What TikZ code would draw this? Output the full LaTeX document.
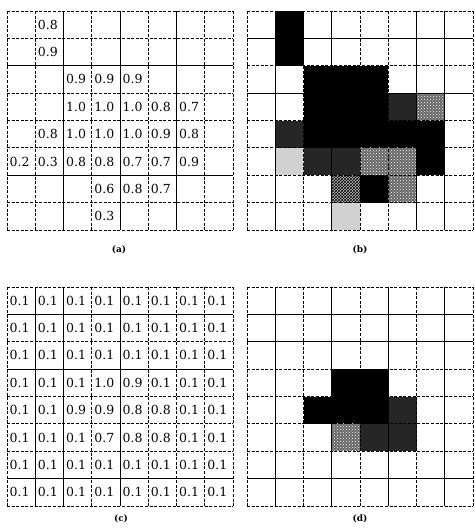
\documentclass[tikz,border=0pt]{standalone}
\usepackage{fontspec}
\setmainfont{DejaVu Serif}
\usetikzlibrary{patterns}
\tikzset{
  gridline/.style={line width=0.8pt, dash pattern=on 3pt off 1.6pt},
  solidline/.style={line width=0.8pt},
  val/.style={anchor=west, inner sep=0pt, font=\fontsize{12.5}{13}\selectfont},
  captext/.style={inner sep=0pt, font=\fontsize{9}{10}\selectfont\bfseries},
  blk/.style={fill=black},
  drk/.style={fill=black!85},
  med/.style={fill=black!60, postaction={pattern=crosshatch dots, pattern color=white}},
  lgt/.style={fill=black!18},
  hat/.style={fill=black!25, postaction={pattern=crosshatch, pattern color=black}},
}
\begin{document}
\begin{tikzpicture}[x=1pt,y=-1pt]
\useasboundingbox (0,0) rectangle (474,530);
\def\cw{28.25}\def\ch{27.375}
% ---- fills of (b)
\foreach \r/\c in {0/1,1/1,2/2,2/3,2/4,3/2,3/3,3/4,4/2,4/3,4/4,4/5,4/6,5/6,6/4}
  \fill[blk] (247+\c*\cw, 11+\r*\ch) rectangle ++(\cw,\ch);
\foreach \r/\c in {3/5,4/1,5/2,5/3}
  \fill[drk] (247+\c*\cw, 11+\r*\ch) rectangle ++(\cw,\ch);
\foreach \r/\c in {3/6,5/4,5/5,6/5}
  \path[med] (247+\c*\cw, 11+\r*\ch) rectangle ++(\cw,\ch);
\foreach \r/\c in {5/1,7/3}
  \fill[lgt] (247+\c*\cw, 11+\r*\ch) rectangle ++(\cw,\ch);
\foreach \r/\c in {6/3}
  \path[hat] (247+\c*\cw, 11+\r*\ch) rectangle ++(\cw,\ch);
% ---- fills of (d)
\foreach \r/\c in {3/3,3/4,4/2,4/3,4/4}
  \fill[blk] (247+\c*\cw, 287+\r*\ch) rectangle ++(\cw,\ch);
\foreach \r/\c in {4/5,5/4,5/5}
  \fill[drk] (247+\c*\cw, 287+\r*\ch) rectangle ++(\cw,\ch);
\foreach \r/\c in {5/3}
  \path[med] (247+\c*\cw, 287+\r*\ch) rectangle ++(\cw,\ch);
% ---- grid lines
\foreach \X/\Y/\V/\H in {7/11/{2,4,6}/{2,6}, 247/11/{1,3,6,7}/{1,3}, 7/287/{1,2,4}/{1,3,7}, 247/287/{1,3,5,7}/{1,2,7}}{
  \foreach \i in {0,...,8}{
    \draw[gridline] (\X+\i*\cw,\Y) -- (\X+\i*\cw,\Y+8*\ch);
    \draw[gridline] (\X,\Y+\i*\ch) -- (\X+8*\cw,\Y+\i*\ch);
  }
  \foreach \i in \V {\draw[solidline] (\X+\i*\cw,\Y) -- (\X+\i*\cw,\Y+8*\ch);}
  \foreach \i in \H {\draw[solidline] (\X,\Y+\i*\ch) -- (\X+8*\cw,\Y+\i*\ch);}
}
% ---- values of (a)
\foreach \r/\c/\t [count=\k] in {0/1/0.8, 1/1/0.9,
  2/2/0.9, 2/3/0.9, 2/4/0.9,
  3/2/1.0, 3/3/1.0, 3/4/1.0, 3/5/0.8, 3/6/0.7,
  4/1/0.8, 4/2/1.0, 4/3/1.0, 4/4/1.0, 4/5/0.9, 4/6/0.8,
  5/0/0.2, 5/1/0.3, 5/2/0.8, 5/3/0.8, 5/4/0.7, 5/5/0.7, 5/6/0.9,
  6/3/0.6, 6/4/0.8, 6/5/0.7,
  7/3/0.3}
  \node[val] (a\k) at (7+\c*\cw+2.5, 11+\r*\ch+\ch/2) {\t};
% ---- values of (c)
\foreach \row [count=\r from 0] in {
  {0.1,0.1,0.1,0.1,0.1,0.1,0.1,0.1},
  {0.1,0.1,0.1,0.1,0.1,0.1,0.1,0.1},
  {0.1,0.1,0.1,0.1,0.1,0.1,0.1,0.1},
  {0.1,0.1,0.1,1.0,0.9,0.1,0.1,0.1},
  {0.1,0.1,0.9,0.9,0.8,0.8,0.1,0.1},
  {0.1,0.1,0.1,0.7,0.8,0.8,0.1,0.1},
  {0.1,0.1,0.1,0.1,0.1,0.1,0.1,0.1},
  {0.1,0.1,0.1,0.1,0.1,0.1,0.1,0.1}}{
  \foreach \t [count=\c from 0] in \row
    \node[val] (c-\r-\c) at (7+\c*\cw+2.5, 287+\r*\ch+\ch/2) {\t};
}
% ---- captions
\node[captext] (capa) at (119,250) {(a)};
\node[captext] (capb) at (360,250) {(b)};
\node[captext] (capc) at (121,519) {(c)};
\node[captext] (capd) at (360,519) {(d)};
\end{tikzpicture}
\end{document}
